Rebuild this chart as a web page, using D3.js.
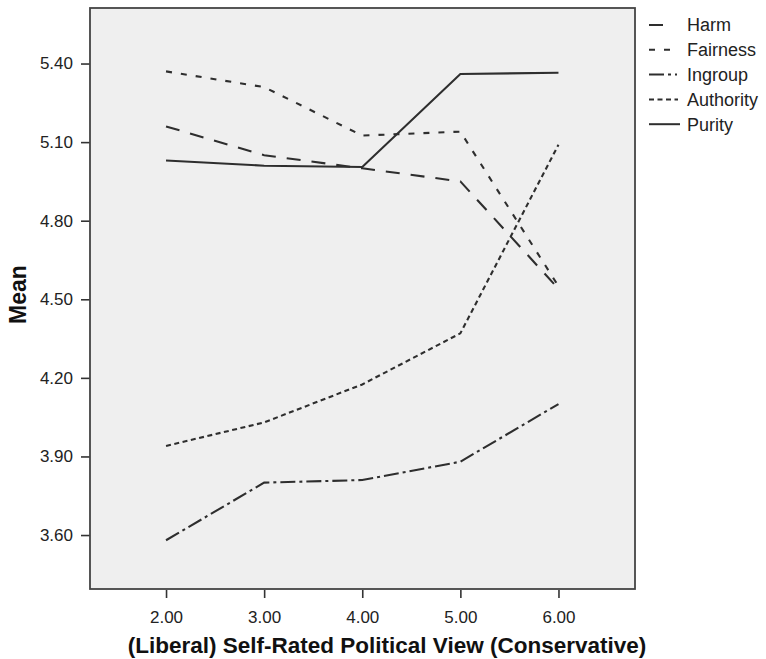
<!DOCTYPE html>
<html>
<head>
<meta charset="utf-8">
<script src="https://cdn.jsdelivr.net/npm/d3@7"></script>
<style>
  body { margin: 0; background: #fff; }
  svg { display: block; font-family: "Liberation Sans", Arial, sans-serif; }
</style>
</head>
<body>
<svg id="chart"></svg>
<script>
// values
const views = [2, 3, 4, 5, 6];
const harm = [5.16, 5.05, 5.00, 4.95, 4.54];
const fairness = [5.37, 5.31, 5.125, 5.14, 4.55];
const ingroup = [3.58, 3.80, 3.81, 3.88, 4.10];
const authority = [3.94, 4.03, 4.175, 4.37, 5.09];
const purity = [5.03, 5.01, 5.005, 5.36, 5.365];
const meanTicks = [3.6, 3.9, 4.2, 4.5, 4.8, 5.1, 5.4];
const seriesNames = ["Harm", "Fairness", "Ingroup", "Authority", "Purity"];

const series = [harm, fairness, ingroup, authority, purity].map((vals, i) => ({
    name: seriesNames[i],
    values: vals.map((v, j) => ({ x: views[j], y: v }))
}));

// line styles per series
const dash = {
    Harm: "14,11",
    Fairness: "6,9",
    Ingroup: "15,4,3,4",
    Authority: "5,3.5",
    Purity: null
};
const legendLen = { Harm: 19, Fairness: 24, Ingroup: 28, Authority: 29, Purity: 31 };

const width = 766, height = 659;
const plot = { left: 90, right: 635, top: 8, bottom: 589 };

const svg = d3.select("#chart")
    .attr("width", width)
    .attr("height", height);

const x = d3.scaleLinear().domain([1.225, 6.78]).range([plot.left, plot.right]);
const y = d3.scaleLinear().domain([3.394, 5.612]).range([plot.bottom, plot.top]);

// plot background
svg.append("rect")
    .attr("x", plot.left)
    .attr("y", plot.top)
    .attr("width", plot.right - plot.left)
    .attr("height", plot.bottom - plot.top)
    .attr("fill", "#efefef");

// axes
const yAxis = svg.append("g")
    .attr("transform", `translate(${plot.left},0)`)
    .call(d3.axisLeft(y).tickValues(meanTicks).tickFormat(d3.format(".2f")).tickSize(9).tickPadding(8));

const xAxis = svg.append("g")
    .attr("transform", `translate(0,${plot.bottom + 1})`)
    .call(d3.axisBottom(x).tickValues(views).tickFormat(d3.format(".2f")).tickSize(8).tickPadding(13));

[xAxis, yAxis].forEach(g => {
    g.select(".domain").remove();
    g.selectAll(".tick line").attr("stroke", "#333").attr("stroke-width", 1.6);
    g.selectAll(".tick text")
        .attr("fill", "#222")
        .style("font-size", "17px")
        .style("font-family", "'Liberation Sans', Arial, sans-serif");
});

// frame
svg.append("rect")
    .attr("x", plot.left)
    .attr("y", plot.top)
    .attr("width", plot.right - plot.left)
    .attr("height", plot.bottom - plot.top)
    .attr("fill", "none")
    .attr("stroke", "#444")
    .attr("stroke-width", 1.8);

// lines
const line = d3.line().x(d => x(d.x)).y(d => y(d.y));

svg.append("g")
    .selectAll("path")
    .data(series)
    .join("path")
    .attr("d", d => line(d.values))
    .attr("fill", "none")
    .attr("stroke", "#2e2e2e")
    .attr("stroke-width", 2.1)
    .attr("stroke-dasharray", d => dash[d.name]);

// axis titles
svg.append("text")
    .attr("x", 387)
    .attr("y", 653)
    .attr("text-anchor", "middle")
    .style("font-size", "22.5px")
    .style("font-weight", "bold")
    .attr("fill", "#111")
    .text("(Liberal) Self-Rated Political View (Conservative)");

svg.append("text")
    .attr("transform", `translate(26,${(plot.top + plot.bottom) / 2 - 4}) rotate(-90)`)
    .attr("text-anchor", "middle")
    .style("font-size", "23px")
    .style("font-weight", "bold")
    .attr("fill", "#111")
    .text("Mean");

// legend
const legend = svg.append("g").attr("transform", "translate(649,25)");
const rows = legend.selectAll("g")
    .data(seriesNames)
    .join("g")
    .attr("transform", (d, i) => `translate(0,${i * 24.8})`);

rows.append("line")
    .attr("x1", 0)
    .attr("x2", d => legendLen[d])
    .attr("y1", 0)
    .attr("y2", 0)
    .attr("stroke", "#2e2e2e")
    .attr("stroke-width", 2)
    .attr("stroke-dasharray", d => dash[d]);

rows.append("text")
    .attr("x", 38)
    .attr("dy", "0.35em")
    .style("font-size", "18px")
    .attr("fill", "#222")
    .text(d => d);
</script>
</body>
</html>
